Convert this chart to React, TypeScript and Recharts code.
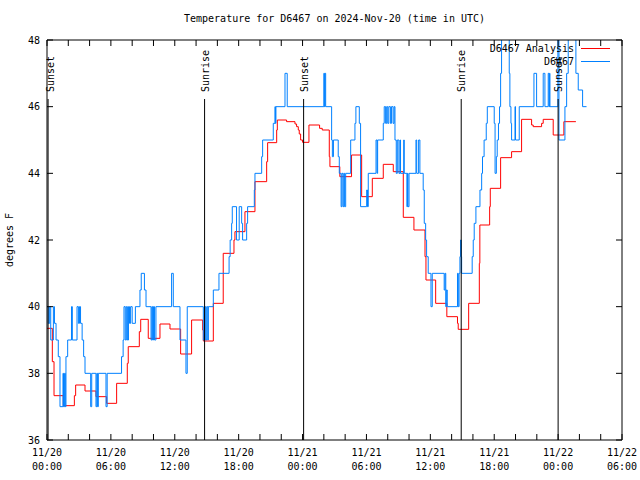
import React from 'react';
import { LineChart, Line, XAxis, YAxis, ReferenceLine } from 'recharts';

// hours since 11/20 00:00 UTC
const redHours = [0, 0.5, 0.66, 1.53, 2.57, 2.69, 3.57, 4.6, 5.6, 6.54, 7.54, 7.63, 8.67, 8.8, 9.51, 10.61, 11.55, 12.55, 13.58, 14.62, 14.68, 15.62, 16.55, 17.56, 17.65, 18.59, 19.53, 20.63, 20.72, 21.57, 21.63, 22.5, 23.29, 23.44, 23.6, 23.69, 23.82, 24.0, 24.6, 25.6, 25.85, 26.51, 26.57, 27.5, 28.6, 29.55, 30.55, 31.58, 32.52, 33.46, 34.46, 35.5, 35.59, 36.5, 37.55, 38.55, 38.62, 39.6, 40.6, 40.65, 41.57, 41.63, 42.6, 43.63, 44.57, 45.51, 45.66, 46.45, 46.6, 47.54, 48.54, 49.67];
const redTemps = [39.35, 38.35, 37.33, 37.03, 37.33, 37.65, 37.47, 37.3, 37.1, 37.7, 38.3, 38.8, 39.25, 39.62, 39.05, 39.48, 39.33, 38.58, 39.6, 39.3, 38.97, 40.1, 41.6, 42.0, 42.25, 42.85, 43.75, 44.35, 44.92, 45.3, 45.6, 45.55, 45.48, 45.4, 45.3, 45.18, 45.0, 44.93, 45.45, 45.35, 45.3, 44.5, 44.2, 43.9, 44.55, 43.3, 43.85, 44.27, 44.05, 42.68, 42.3, 41.5, 40.8, 40.1, 39.7, 39.5, 39.32, 40.1, 41.3, 42.45, 43.0, 43.55, 44.47, 44.65, 45.62, 45.45, 45.4, 45.5, 45.62, 45.15, 45.55, 45.55];

const blueHours = [0, 0.12, 0.25, 0.35, 0.6, 0.7, 0.85, 1.06, 1.22, 1.5, 1.55, 1.65, 1.72, 1.78, 1.94, 2.3, 2.38, 2.82, 2.95, 3.05, 3.15, 3.3, 3.44, 3.57, 4.1, 4.2, 4.6, 4.68, 4.75, 4.82, 5.54, 5.65, 7.0, 7.15, 7.23, 7.35, 7.45, 7.55, 7.65, 7.75, 7.85, 8.0, 8.3, 8.73, 8.85, 9.15, 9.3, 9.77, 9.85, 9.92, 10.0, 10.1, 10.23, 11.7, 11.86, 12.49, 13.05, 13.17, 14.68, 14.8, 14.9, 15.0, 15.1, 15.15, 15.62, 16.15, 17.1, 17.2, 17.34, 17.4, 17.8, 18.05, 18.28, 18.37, 18.75, 18.84, 19.47, 19.53, 20.16, 20.25, 21.25, 21.41, 21.45, 21.5, 22.35, 22.56, 26.0, 26.05, 26.1, 26.17, 26.73, 26.8, 26.9, 27.35, 27.45, 27.62, 27.7, 27.8, 27.88, 27.95, 28.05, 28.52, 28.92, 29.01, 29.33, 29.45, 30.02, 30.1, 30.17, 30.9, 31.0, 31.05, 31.58, 31.67, 31.8, 31.9, 32.0, 32.1, 32.25, 32.35, 32.5, 32.6, 32.68, 32.8, 32.9, 33.05, 33.15, 33.2, 33.5, 33.55, 33.8, 33.85, 33.9, 34.0, 34.65, 34.72, 34.9, 35.02, 35.33, 35.43, 35.56, 35.65, 35.8, 36.06, 36.18, 37.3, 37.38, 37.45, 37.5, 37.59, 38.55, 38.62, 38.7, 38.78, 38.84, 38.9, 38.94, 39.93, 40.03, 40.12, 40.28, 40.66, 40.82, 40.9, 41.05, 41.25, 41.35, 42.0, 42.08, 42.2, 42.28, 42.4, 42.5, 42.6, 42.69, 43.41, 43.47, 43.57, 43.63, 43.95, 44.0, 44.35, 45.73, 45.98, 46.6, 46.76, 47.07, 47.15, 47.2, 47.23, 47.98, 48.08, 48.64, 48.8, 48.95, 49.67, 49.89, 50.3, 50.67];
const blueTemps = [40, 39.5, 40, 39, 40, 39.5, 39, 38.5, 37, 38, 37, 38, 37, 38.5, 39, 40, 39, 40, 39.5, 40, 39.5, 39, 38.5, 38, 37, 38, 37, 38, 37, 38, 37, 38, 38.5, 39, 40, 39, 40, 39, 40, 39.5, 40, 39.5, 40, 40.5, 41, 40.5, 40, 39, 40, 39, 40, 39, 40, 41, 40, 39, 38, 40, 39, 40, 39, 40, 39, 40, 40.5, 41, 41.5, 42, 42.5, 43, 42, 43, 42.5, 42, 42.5, 43, 43.5, 44, 44.5, 45, 45.5, 46, 45.5, 46, 47, 46, 47, 46, 47, 46, 45, 44.5, 45, 44.5, 44, 43, 44, 43, 44, 43, 44, 45, 45.5, 46, 45.5, 43, 43.5, 43, 44, 45, 44, 45, 45.5, 46, 45.5, 46, 45.5, 46, 45.5, 46, 45.5, 46, 45, 44, 45, 44, 45, 44, 45, 44, 43, 44, 43, 44, 45, 44, 45, 44, 43.5, 42.5, 42, 41.5, 41, 40, 41, 40.5, 41, 40, 40.5, 40, 41, 40, 41, 41.5, 42, 41.5, 41, 41.5, 42, 42.5, 43, 43.5, 44, 44.5, 45, 45.5, 46, 45.5, 44, 44.5, 45, 45.5, 46, 47, 49, 47, 46, 45.5, 45, 46, 45, 46, 47, 46, 47, 46, 47, 46, 47, 46, 49, 45, 46, 47, 49, 47, 46.5, 46, 46];

const sunHours = [0.1, 14.8, 24.1, 38.9, 48.0];
const sunLabels = ['Sunset', 'Sunrise', 'Sunset', 'Sunrise', 'Sunset'];

const xTicks = [0, 2, 4, 6, 8, 10, 12, 14, 16, 18, 20, 22, 24, 26, 28, 30, 32, 34, 36, 38, 40, 42, 44, 46, 48, 50, 52, 54];
const xLabelHours = [0, 6, 12, 18, 24, 30, 36, 42, 48, 54];
const xLabelDates = ['11/20', '11/20', '11/20', '11/20', '11/21', '11/21', '11/21', '11/21', '11/22', '11/22'];
const xLabelTimes = ['00:00', '06:00', '12:00', '18:00', '00:00', '06:00', '12:00', '18:00', '00:00', '06:00'];
const yTicks = [36, 38, 40, 42, 44, 46, 48];

const redData = redHours.map((h, i) => ({ h, v: redTemps[i] }));
const blueData = blueHours.map((h, i) => ({ h, v: blueTemps[i] }));

const mono = 'DejaVu Sans Mono';
const sunTop = 46.23;

const XTick = (props: any) => {
  const { x, y, payload } = props;
  const i = xLabelHours.indexOf(payload.value);
  if (i < 0) return <g />;
  return (
    <text x={x} y={y} textAnchor="middle" fontFamily={mono} fontSize={10} fill="#000">
      <tspan x={x} dy={12}>{xLabelDates[i]}</tspan>
      <tspan x={x} dy={14}>{xLabelTimes[i]}</tspan>
    </text>
  );
};

const SunLabel = (text: string) => (props: any) => {
  const vb = props.viewBox || {};
  return (
    <text
      transform={`translate(${Math.max(vb.x + 4, 54)}, ${vb.y - 7}) rotate(-90)`}
      fontFamily={mono}
      fontSize={10}
      fill="#000"
    >
      {text}
    </text>
  );
};

export default function App() {
  return (
    <div style={{ position: 'absolute', left: 0, top: 0, width: 640, height: 480, background: '#fff' }}>
      <LineChart width={640} height={480} margin={{ top: 39, right: 17, bottom: 0, left: 0 }}>
        <XAxis
          dataKey="h"
          type="number"
          domain={[0, 54]}
          ticks={xTicks}
          interval={0}
          allowDataOverflow
          height={40}
          tickSize={-6}
          tickMargin={10}
          tick={<XTick />}
          stroke="#000"
        />
        <XAxis
          xAxisId="top"
          orientation="top"
          dataKey="h"
          type="number"
          domain={[0, 54]}
          ticks={xTicks}
          interval={0}
          allowDataOverflow
          height={1}
          tickSize={-6}
          tickFormatter={() => ''}
          stroke="#000"
        />
        <YAxis
          type="number"
          domain={[36, 48]}
          ticks={yTicks}
          interval={0}
          allowDataOverflow
          width={47}
          tickSize={-6}
          tickMargin={13}
          tick={{ fontFamily: mono, fontSize: 10, fill: '#000' }}
          stroke="#000"
          label={{
            content: () => (
              <text transform="translate(13, 240) rotate(-90)" textAnchor="middle" fontFamily={mono} fontSize={10} fill="#000">
                degrees F
              </text>
            ),
          }}
        />
        <YAxis
          yAxisId="right"
          orientation="right"
          type="number"
          domain={[36, 48]}
          ticks={yTicks}
          interval={0}
          allowDataOverflow
          width={1}
          tickSize={-6}
          tickFormatter={() => ''}
          stroke="#000"
        />
        <Line
          data={redData}
          dataKey="v"
          yAxisId="right"
          type="stepAfter"
          stroke="#ff0000"
          strokeWidth={1}
          dot={false}
          isAnimationActive={false}
        />
        <Line
          data={blueData}
          dataKey="v"
          xAxisId="top"
          type="stepAfter"
          stroke="#0080ff"
          strokeWidth={1}
          dot={false}
          isAnimationActive={false}
        />
        {sunHours.map((h, i) => (
          <ReferenceLine
            key={i}
            segment={[{ x: h, y: sunTop }, { x: h, y: 36 }]}
            stroke="#000"
            strokeWidth={1}
            label={SunLabel(sunLabels[i])}
          />
        ))}
      </LineChart>
      <div
        style={{
          position: 'absolute', left: 47, width: 575, top: 13, textAlign: 'center',
          fontFamily: mono, fontSize: 10, lineHeight: '12px', whiteSpace: 'pre',
        }}
      >
        Temperature for D6467 on 2024-Nov-20 (time in UTC)
      </div>
      <div style={{ position: 'absolute', right: 66, top: 43, fontFamily: mono, fontSize: 10, lineHeight: '12px', whiteSpace: 'pre' }}>
        D6467 Analysis
      </div>
      <div style={{ position: 'absolute', left: 581, top: 48, width: 29, borderTop: '1px solid #ff0000' }} />
      <div style={{ position: 'absolute', right: 66, top: 56, fontFamily: mono, fontSize: 10, lineHeight: '12px', whiteSpace: 'pre' }}>
        D6467
      </div>
      <div style={{ position: 'absolute', left: 581, top: 61, width: 29, borderTop: '1px solid #0080ff' }} />
    </div>
  );
}
